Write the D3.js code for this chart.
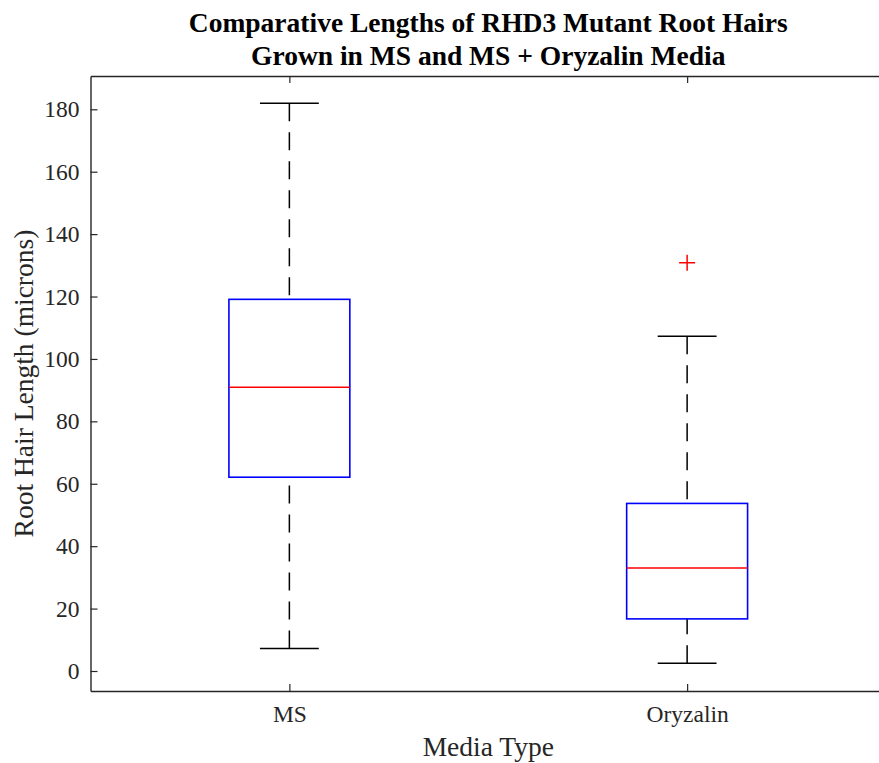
<!DOCTYPE html>
<html>
<head>
<meta charset="utf-8">
<script src="https://cdn.jsdelivr.net/npm/d3@7"></script>
<style>
  body { margin: 0; background: #fff; }
  text { font-family: "Liberation Serif", "Times New Roman", serif; fill: #262626; }
</style>
</head>
<body>
<div id="chart"></div>
<script>
// box plot summary values (microns)
var categories = ["MS", "Oryzalin"];
var whiskerLow = [7.2, 2.5];
var q1 = [62.1, 16.7];
var median = [90.9, 33.0];
var q3 = [119.1, 53.7];
var whiskerHigh = [181.9, 107.3];
var outliers = [[], [130.8]];
var yTicks = [0, 20, 40, 60, 80, 100, 120, 140, 160, 180];

(function () {
  var width = 879, height = 763;
  var margin = {left: 90.5, right: 886, top: 76, bottom: 691};

  var svg = d3.select("#chart").append("svg")
    .attr("width", width)
    .attr("height", height);

  var x = d3.scaleLinear().domain([0.5, 2.5]).range([margin.left, margin.right]);
  var y = d3.scaleLinear().domain([-6.41, 190.67]).range([margin.bottom, margin.top]);

  var boxW = 0.304, capW = 0.148;

  // build one row per group from the arrays
  var boxes = categories.map(function (c, i) {
    return {name: c, pos: i + 1, lo: whiskerLow[i], q1: q1[i], med: median[i],
      q3: q3[i], hi: whiskerHigh[i], out: outliers[i]};
  });

  var g = svg.append("g");

  // whiskers, dashed, drawn from the end toward the box
  g.selectAll(".whisk-hi").data(boxes).enter().append("line")
    .attr("x1", function (d) { return x(d.pos); })
    .attr("x2", function (d) { return x(d.pos); })
    .attr("y1", function (d) { return y(d.hi); })
    .attr("y2", function (d) { return y(d.q3); })
    .attr("stroke", "#000").attr("stroke-width", 1.5)
    .attr("stroke-dasharray", "18,11");

  g.selectAll(".whisk-lo").data(boxes).enter().append("line")
    .attr("x1", function (d) { return x(d.pos); })
    .attr("x2", function (d) { return x(d.pos); })
    .attr("y1", function (d) { return y(d.lo); })
    .attr("y2", function (d) { return y(d.q1); })
    .attr("stroke", "#000").attr("stroke-width", 1.5)
    .attr("stroke-dasharray", "18,11");

  // caps
  ["hi", "lo"].forEach(function (k) {
    g.selectAll(".cap-" + k).data(boxes).enter().append("line")
      .attr("x1", function (d) { return x(d.pos - capW / 2); })
      .attr("x2", function (d) { return x(d.pos + capW / 2); })
      .attr("y1", function (d) { return y(d[k]); })
      .attr("y2", function (d) { return y(d[k]); })
      .attr("stroke", "#000").attr("stroke-width", 1.5);
  });

  // boxes
  g.selectAll(".box").data(boxes).enter().append("rect")
    .attr("x", function (d) { return x(d.pos - boxW / 2); })
    .attr("width", function (d) { return x(d.pos + boxW / 2) - x(d.pos - boxW / 2); })
    .attr("y", function (d) { return y(d.q3); })
    .attr("height", function (d) { return y(d.q1) - y(d.q3); })
    .attr("fill", "none").attr("stroke", "#0000ff").attr("stroke-width", 1.6);

  // medians
  g.selectAll(".med").data(boxes).enter().append("line")
    .attr("x1", function (d) { return x(d.pos - boxW / 2); })
    .attr("x2", function (d) { return x(d.pos + boxW / 2); })
    .attr("y1", function (d) { return y(d.med); })
    .attr("y2", function (d) { return y(d.med); })
    .attr("stroke", "#ff0000").attr("stroke-width", 1.5);

  // outliers as red plus signs
  var outPts = [];
  boxes.forEach(function (d) {
    d.out.forEach(function (v) { outPts.push({pos: d.pos, v: v}); });
  });
  g.selectAll(".out").data(outPts).enter().append("path")
    .attr("d", function (d) {
      var cx = x(d.pos), cy = y(d.v), s = 8;
      return "M" + (cx - s) + "," + cy + "H" + (cx + s) + "M" + cx + "," + (cy - s) + "V" + (cy + s);
    })
    .attr("stroke", "#ff0000").attr("stroke-width", 1.5).attr("fill", "none");

  // axes, ticks on all four sides pointing in
  function styleAxis(sel) {
    sel.select(".domain").attr("stroke", "#262626").attr("stroke-width", 1.4);
    sel.selectAll(".tick line").attr("stroke", "#262626").attr("stroke-width", 1.2);
    sel.selectAll(".tick text").attr("fill", "#262626")
      .style("font-family", '"Liberation Serif", "Times New Roman", serif')
      .style("font-size", "23.5px");
  }

  svg.append("g").attr("transform", "translate(" + margin.left + ",0)")
    .call(d3.axisLeft(y).tickValues(yTicks).tickSize(-7).tickSizeOuter(0).tickPadding(11))
    .call(styleAxis);

  svg.append("g").attr("transform", "translate(" + margin.right + ",0)")
    .call(d3.axisRight(y).tickValues(yTicks).tickSize(-7).tickSizeOuter(0).tickFormat(""))
    .call(styleAxis);

  svg.append("g").attr("transform", "translate(0," + margin.bottom + ")")
    .call(d3.axisBottom(x).tickValues([1, 2]).tickSize(-7).tickSizeOuter(0).tickPadding(14)
      .tickFormat(function (d) { return categories[d - 1]; }))
    .call(styleAxis);

  svg.append("g").attr("transform", "translate(0," + margin.top + ")")
    .call(d3.axisTop(x).tickValues([1, 2]).tickSize(-7).tickSizeOuter(0).tickFormat(""))
    .call(styleAxis);

  // labels
  svg.append("text")
    .attr("x", (margin.left + margin.right) / 2).attr("y", 756)
    .attr("text-anchor", "middle")
    .style("font-size", "27.5px")
    .text("Media Type");

  svg.append("text")
    .attr("transform", "translate(33," + (margin.top + margin.bottom) / 2 + ") rotate(-90)")
    .attr("text-anchor", "middle")
    .style("font-size", "27.5px")
    .text("Root Hair Length (microns)");

  // title
  var title = svg.append("text")
    .attr("text-anchor", "middle")
    .style("font-size", "27.5px")
    .style("font-weight", "bold")
    .style("fill", "#000");
  title.append("tspan").attr("x", (margin.left + margin.right) / 2).attr("y", 32)
    .text("Comparative Lengths of RHD3 Mutant Root Hairs");
  title.append("tspan").attr("x", (margin.left + margin.right) / 2).attr("y", 65)
    .text("Grown in MS and MS + Oryzalin Media");
})();
</script>
</body>
</html>
